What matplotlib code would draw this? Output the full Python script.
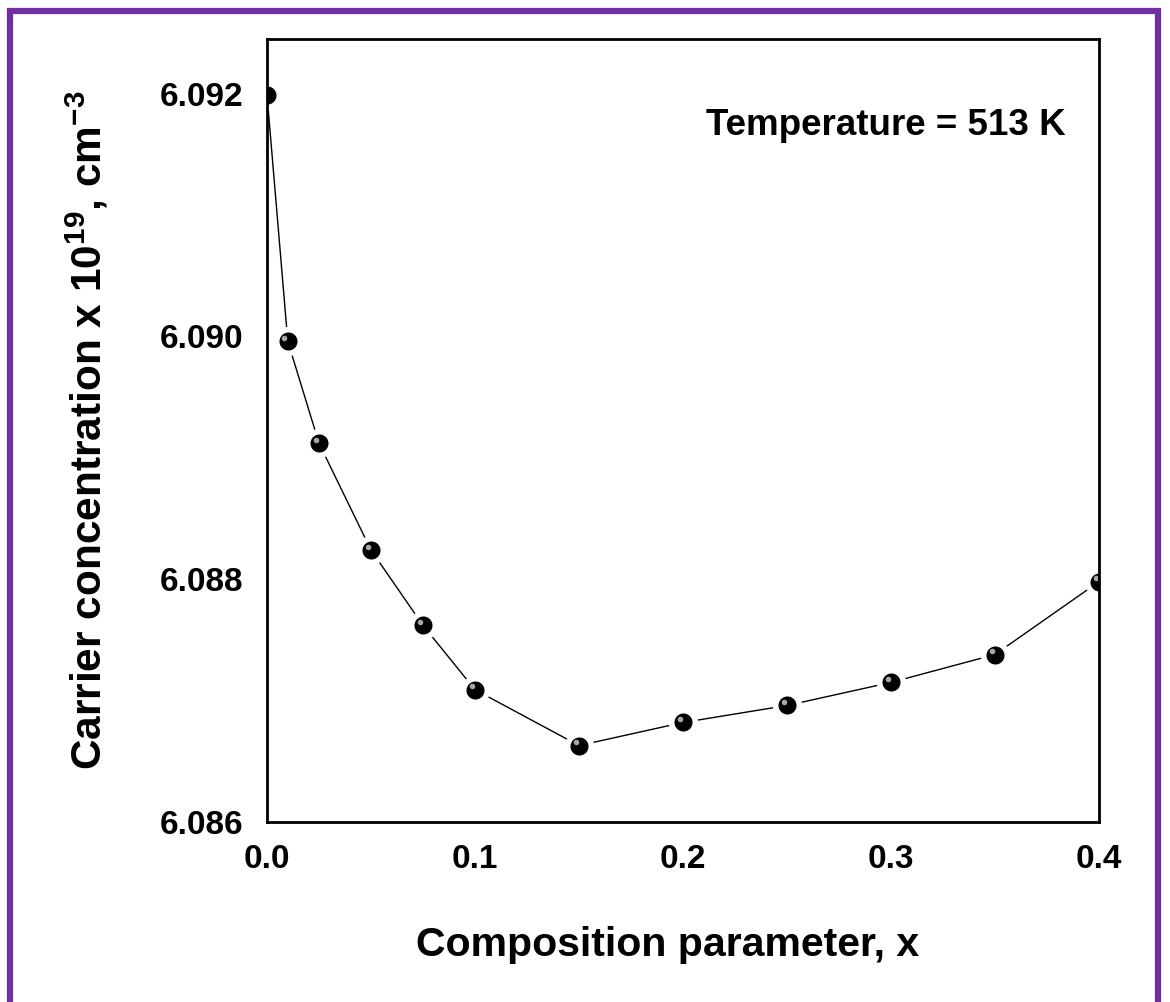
import numpy as np
import matplotlib.pyplot as plt
import matplotlib.transforms as mtransforms
from matplotlib.patches import Rectangle

# composition parameter x and carrier concentration (x 10^19 cm^-3)
comp_x = [0.0, 0.01, 0.025, 0.05, 0.075, 0.1, 0.15, 0.2, 0.25, 0.3, 0.35, 0.4]
carrier = [6.09199, 6.08996, 6.08912, 6.08824, 6.08762, 6.08709,
           6.08663, 6.08682, 6.08696, 6.08715, 6.08738, 6.08798]

x_ticks = [0.0, 0.1, 0.2, 0.3, 0.4]
x_tick_labels = ['0.0', '0.1', '0.2', '0.3', '0.4']
y_ticks = [6.086, 6.088, 6.090, 6.092]
y_tick_labels = ['6.086', '6.088', '6.090', '6.092']

plt.rcParams['font.family'] = ['Liberation Sans', 'DejaVu Sans']
plt.rcParams['font.weight'] = 'bold'
plt.rcParams['mathtext.fontset'] = 'custom'
plt.rcParams['mathtext.bf'] = 'Liberation Sans:bold'

fig = plt.figure(figsize=(11.7, 10.02), dpi=100)
ax = fig.add_axes([0.2282, 0.1796, 0.7111, 0.7815])

# purple frame around the figure (open at the bottom)
frame = Rectangle((10 / 1170, -0.05), 1158 / 1170 - 10 / 1170, 1.05 - 10.5 / 1002,
                  transform=fig.transFigure, fill=False, edgecolor='#7030A0',
                  linewidth=4.5, zorder=0)
fig.patches.append(frame)

ax.plot(comp_x, carrier, color='black', linewidth=1.0, zorder=2)
ax.plot(comp_x, carrier, linestyle='none', marker='o', markersize=17,
        markerfacecolor='black', markeredgecolor='white', markeredgewidth=4,
        zorder=3)
# highlight to give the sphere look
offset = mtransforms.ScaledTranslation(-2.5 / 72, 2.5 / 72, fig.dpi_scale_trans)
ax.plot(comp_x, carrier, linestyle='none', marker='o', markersize=4,
        markerfacecolor='#a8a8a8', markeredgewidth=0,
        transform=ax.transData + offset, zorder=4)

ax.set_xlim(0, 0.4)
ax.set_ylim(6.086, 6.09245)
ax.set_xticks(x_ticks)
ax.set_xticklabels(x_tick_labels)
ax.set_yticks(y_ticks)
ax.set_yticklabels(y_tick_labels)
ax.tick_params(length=0, labelsize=24, pad=16)
ax.tick_params(axis='y', pad=17)
for sp in ax.spines.values():
    sp.set_linewidth(2)
    sp.set_zorder(5)

ax.set_xlabel('Composition parameter, x', fontsize=29.5, fontweight='bold')
ax.xaxis.set_label_coords(0.482, -0.133)
ax.set_ylabel(r'Carrier concentration x 10$^{\mathbf{19}}$, cm$^{\mathbf{-3}}$',
              fontsize=30.5, fontweight='bold')
ax.yaxis.set_label_coords(-0.188, 0.5)

ax.text(0.96, 0.89, 'Temperature = 513 K', transform=ax.transAxes,
        ha='right', va='center', fontsize=26.5, fontweight='bold')

fig.savefig('out.png', dpi=100)
